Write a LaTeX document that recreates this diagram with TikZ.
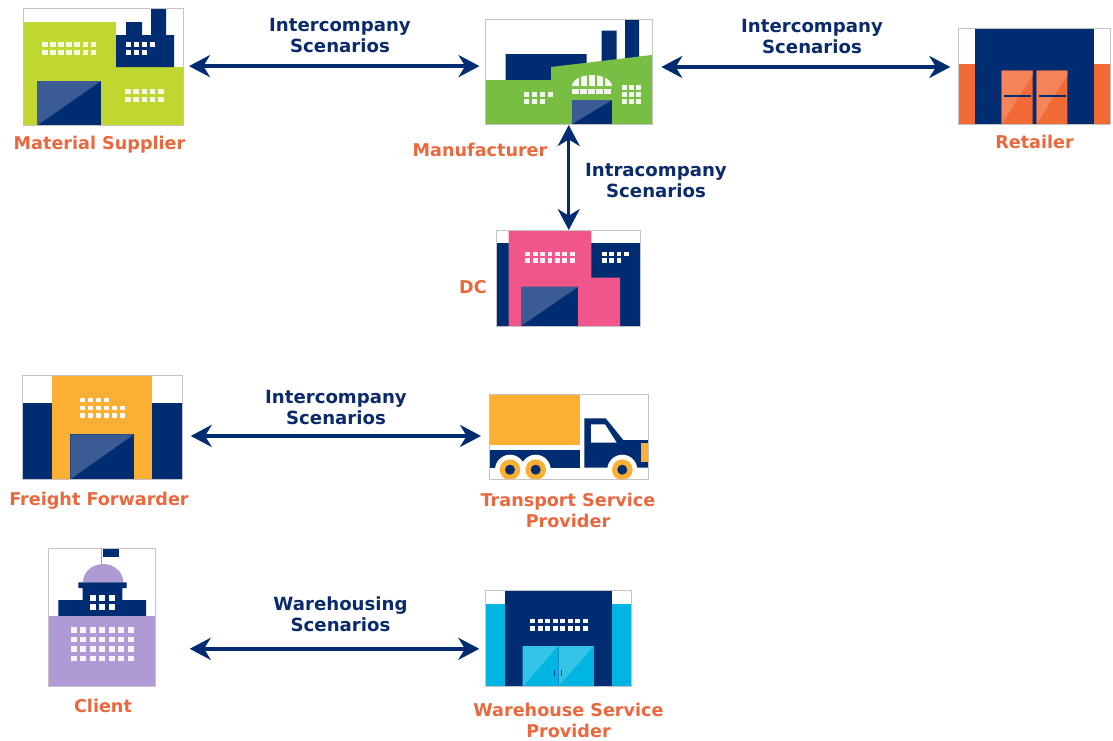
\documentclass[tikz,border=0pt]{standalone}
\usepackage{fontspec}
\setmainfont{DejaVu Sans}
\usetikzlibrary{arrows.meta}
\definecolor{navy}{HTML}{002D72}
\definecolor{doorlight}{HTML}{3A5B94}
\definecolor{framegray}{HTML}{C4C4C4}
\definecolor{lime}{HTML}{BFD730}
\definecolor{leaf}{HTML}{78BE43}
\definecolor{pinkb}{HTML}{F0568A}
\definecolor{amber}{HTML}{FBB034}
\definecolor{rust}{HTML}{F26A36}
\definecolor{rustl}{HTML}{F58458}
\definecolor{lilac}{HTML}{B09AD6}
\definecolor{cyanb}{HTML}{00B5E2}
\definecolor{cyanl}{HTML}{33C4E8}
\definecolor{labelorange}{HTML}{E9683D}
\definecolor{labelnavy}{HTML}{0B2A6B}
\tikzset{
  iconframe/.style={draw=framegray,line width=0.6pt,inner sep=0pt,outer sep=0pt,minimum width=#1},
  place/.style={font=\fontsize{13.2}{15.75}\selectfont\bfseries,text=labelorange,align=center,inner sep=0pt},
  scen/.style={font=\fontsize{13.6}{15.75}\selectfont\bfseries,text=labelnavy,align=center,inner sep=0pt},
  conn/.style={draw=navy,line width=2.6pt,{Stealth[length=15.75pt,width=16.5pt,inset=5pt]}-{Stealth[length=15.75pt,width=16.5pt,inset=5pt]}}
}
% windows: x0, dx, y, n, w, h, colour
\newcommand{\winrow}[7]{\foreach \wi in {1,...,#4}{\fill[#7] ({#1+(\wi-1)*#2},#3) rectangle ++(#5,#6);}}
% goods door: x1,y1,x2,y2
\newcommand{\gooddoor}[4]{\fill[navy] (#1,#2) rectangle (#3,#4);\fill[doorlight] (#1,#4) -- (#1,#2) -- (#3,#2) -- cycle;}
\begin{document}
\begin{tikzpicture}[x=0.75pt,y=-0.75pt]
\useasboundingbox (0,0) rectangle (1113,740);
\fill[white] (0,0) rectangle (1113,740);

% ---------- Material Supplier
\fill[lime] (23,22) rectangle (116,67) (23,67) rectangle (183,125.5);
\fill[navy] (116,35) rectangle (174,67) (126,22) rectangle (142,35) (151,8) rectangle (166,35);
\winrow{42}{8.1}{42}{7}{5.5}{5}{white!85!lime}
\winrow{42}{8.1}{50}{7}{5.5}{5}{white!85!lime}
\winrow{125.5}{8}{42}{4}{5.5}{5}{white}
\winrow{125.5}{8}{50}{3}{5.5}{5}{white}
\winrow{125}{8.3}{89}{5}{5.5}{5}{white!85!lime}
\winrow{125}{8.3}{97}{5}{5.5}{5}{white!85!lime}
\gooddoor{37}{81}{101}{125.5}
\node[iconframe=160*0.75pt,minimum height=117.5*0.75pt] (ms) at (103,66.75) {};

% ---------- Manufacturer
\fill[navy] (505.7,54) rectangle (586.7,80) (601.7,30.5) rectangle (616.7,65) (625,19) rectangle (639,62);
\fill[leaf] (485.5,80) -- (551,80) -- (551,67) -- (652,55) -- (652,124) -- (485.5,124) -- cycle;
\winrow{524}{7.9}{92}{4}{5}{4.8}{white!90!leaf}
\winrow{524}{7.9}{99}{3}{5}{4.8}{white!90!leaf}
\foreach \ry in {85,92,99}{\winrow{621.7}{7.2}{\ry}{3}{5}{4.8}{white!90!leaf}}
\fill[white!92!leaf] (572,86) arc[start angle=180,end angle=360,x radius=20,y radius=11] -- cycle;
\winrow{572}{8.1}{88.7}{5}{7}{5.3}{white!92!leaf}
\foreach \mx in {580,588,596,604}{\draw[leaf,line width=0.8pt] (\mx,74) -- (\mx,86);}
\gooddoor{572}{100}{612}{124}
\node[iconframe=166.5*0.75pt,minimum height=105*0.75pt] (mf) at (568.75,71.5) {};

% ---------- Retailer
\fill[rust] (958.3,64) rectangle (1110.7,124);
\fill[navy] (975,28.3) rectangle (1094,124);
\fill[rust] (1001.7,70.7) rectangle (1032.7,124) (1036.7,70.7) rectangle (1067.3,124);
\fill[rustl] (1001.7,124) -- (1001.7,70.7) -- (1032.7,70.7) -- (1032.7,75) -- cycle;
\fill[rustl] (1036.7,124) -- (1036.7,70.7) -- (1067.3,70.7) -- (1067.3,75) -- cycle;
\draw[navy,line width=1.2pt] (1004,96) -- (1031,96) (1039,96) -- (1066,96);
\node[iconframe=152.4*0.75pt,minimum height=95.7*0.75pt] (rt) at (1034.5,76.15) {};

% ---------- DC
\fill[navy] (496.7,243.3) rectangle (640.3,326);
\fill[pinkb] (508.7,230.7) -- (591.3,230.7) -- (591.3,277.7) -- (620,277.7) -- (620,326) -- (508.7,326) -- cycle;
\winrow{525.3}{7.4}{251.7}{7}{4.8}{4.6}{white!90!pinkb}
\winrow{525.3}{7.4}{258.3}{7}{4.8}{4.6}{white!90!pinkb}
\winrow{601.7}{7.4}{251.7}{4}{4.8}{4.6}{white}
\winrow{601.7}{7.4}{258.3}{3}{4.8}{4.6}{white}
\gooddoor{521}{286.7}{578.3}{326}
\node[iconframe=143.6*0.75pt,minimum height=95.3*0.75pt] (dc) at (568.5,278.35) {};

% ---------- Freight Forwarder
\fill[navy] (22.3,403.3) rectangle (182.7,479.3);
\fill[amber] (52.3,375) rectangle (152.3,479.3);
\winrow{80}{8}{397.7}{4}{5}{4.6}{white!92!amber}
\winrow{80}{8}{405.5}{6}{5}{4.6}{white!92!amber}
\winrow{80}{8}{413.4}{6}{5}{4.6}{white!92!amber}
\gooddoor{70.3}{434.3}{134}{479.3}
\node[iconframe=160.4*0.75pt,minimum height=104.3*0.75pt] (ff) at (102.5,427.15) {};

% ---------- Transport Service Provider
\fill[amber] (489,394.3) rectangle (580,445);
\fill[navy] (489,450) rectangle (580,467.7);
\fill[navy] (584.3,418.3) -- (605.7,418.3) -- (623.3,440) -- (648.3,440) -- (648.3,467.7) -- (584.3,467.7) -- cycle;
\fill[white] (591,424.3) -- (605,424.3) -- (616.7,442.7) -- (591,442.7) -- cycle;
\fill[amber] (640.7,443.3) rectangle (648.3,462.3);
\foreach \wx in {510,535.7,622.3}{
  \fill[white] (\wx,469.7) circle[radius=15];
  \fill[amber] (\wx,469.7) circle[radius=10.3];
  \fill[navy] (\wx,469.7) circle[radius=5];
}
\node[iconframe=159.3*0.75pt,minimum height=85*0.75pt] (ts) at (568.65,436.8) {};

% ---------- Client
\draw[lilac,line width=0.8pt] (101.7,548) -- (101.7,565);
\fill[navy] (103.3,548) rectangle (119.3,556.7);
\fill[lilac] (83,582.3) arc[start angle=180,end angle=360,x radius=20.15,y radius=18.3] -- cycle;
\fill[navy] (58.3,600) rectangle (146,616) (82.7,588) rectangle (122.3,600) (78.3,582.3) rectangle (126.7,588);
\winrow{90}{9.4}{595}{3}{6}{5.8}{white}
\winrow{90}{9.4}{604.3}{3}{6}{5.8}{white}
\fill[lilac] (48.3,616) rectangle (155.7,686.7);
\foreach \ry in {627.3,636.7,646.2,655.8}{\winrow{70.7}{9.5}{\ry}{7}{5.8}{5.6}{white!90!lilac}}
\node[iconframe=107.4*0.75pt,minimum height=138.7*0.75pt] (cl) at (102,617.35) {};

% ---------- Warehouse Service Provider
\fill[cyanb] (485.3,604) rectangle (631,686.7);
\fill[navy] (505,590.3) rectangle (611.7,686.7);
\winrow{530}{7.5}{618.5}{8}{5}{4.8}{white}
\winrow{530}{7.5}{625.8}{8}{5}{4.8}{white}
\fill[cyanb] (522.7,646) rectangle (593.7,686.7);
\fill[cyanl] (522.7,686.7) -- (558,646) -- (522.7,646) -- cycle;
\fill[cyanl] (558,686.7) -- (593.7,646) -- (558,646) -- cycle;
\draw[doorlight!40!cyanb,line width=0.5pt] (558,646) -- (558,686.7);
\draw[navy!80!cyanb,line width=1pt] (554.3,670) -- (554.3,675.7) (561.7,670) -- (561.7,675.7);
\node[iconframe=145.7*0.75pt,minimum height=96.4*0.75pt] (wh) at (558.15,638.5) {};

% ---------- Labels
\node[place] (lms) at (99.5,144.5) {Material Supplier};
\node[place] (lmf) at (480,149.5) {Manufacturer};
\node[place] (lrt) at (1034.5,142) {Retailer};
\node[place] (ldc) at (473,287.5) {DC};
\node[place] (lff) at (99,500.5) {Freight Forwarder};
\node[place] (lts) at (568,510) {Transport Service\\Provider};
\node[place] (lcl) at (103,706) {Client};
\node[place] (lwh) at (568.5,720) {Warehouse Service\\Provider};
\node[scen] (s1) at (340,35.5) {Intercompany\\Scenarios};
\node[scen] (s2) at (812,36.5) {Intercompany\\Scenarios};
\node[scen] (s3) at (656,180.5) {Intracompany\\Scenarios};
\node[scen] (s4) at (336,407.5) {Intercompany\\Scenarios};
\node[scen] (s5) at (340.5,614.5) {Warehousing\\Scenarios};

% ---------- Connectors
\coordinate (c1) at ([xshift=4.5pt,yshift=0.5pt]ms.east);
\coordinate (c2) at ([xshift=7pt,yshift=3.4pt]mf.east);
\coordinate (c3) at ([yshift=-0.8pt]mf.south);
\coordinate (c4) at ([xshift=6pt,yshift=-6.6pt]ff.east);
\coordinate (c5) at ([xshift=25.5pt,yshift=-23.6pt]cl.east);
\draw[conn] (c1) -- ([xshift=-4.5pt]c1 -| mf.west);
\draw[conn] (c2) -- ([xshift=-6pt]c2 -| rt.west);
\draw[conn] (c3) -- ([yshift=0.5pt]c3 |- dc.north);
\draw[conn] (c4) -- ([xshift=-6pt]c4 -| ts.west);
\draw[conn] (c5) -- ([xshift=-4.5pt]c5 -| wh.west);
\end{tikzpicture}
\end{document}
